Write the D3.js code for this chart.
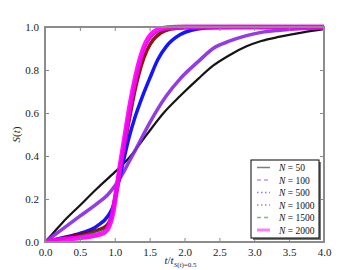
<!DOCTYPE html>
<html>
<head>
<meta charset="utf-8">
<script src="https://cdn.jsdelivr.net/npm/d3@7"></script>
<style>
  body { margin: 0; background: #fff; }
  text { font-family: "Liberation Serif", "DejaVu Serif", serif; }
</style>
</head>
<body>
<svg id="chart"></svg>
<script>
// values, [t / t_S(t)=0.5, S(t)]
var n50 = [[0,0],[0.1,0.035],[0.25,0.09],[0.5,0.17],[0.75,0.25],[1.0,0.325],[1.2,0.39],[1.46,0.5],[1.7,0.6],[1.94,0.68],[2.2,0.76],[2.41,0.82],[2.65,0.87],[2.89,0.91],[3.1,0.935],[3.37,0.955],[3.7,0.975],[4.0,0.99]];
var n100 = [[0,0],[0.25,0.06],[0.5,0.12],[0.75,0.18],[0.9,0.22],[1.0,0.26],[1.1,0.31],[1.2,0.37],[1.3,0.43],[1.46,0.53],[1.6,0.61],[1.74,0.68],[1.94,0.76],[2.2,0.84],[2.41,0.9],[2.65,0.935],[2.89,0.96],[3.1,0.975],[3.37,0.985],[3.7,0.993],[4.0,0.997]];
var n500 = [[0,0],[0.25,0.02],[0.5,0.04],[0.75,0.075],[0.9,0.12],[0.98,0.17],[1.05,0.27],[1.12,0.37],[1.2,0.48],[1.29,0.58],[1.4,0.68],[1.5,0.76],[1.62,0.85],[1.74,0.91],[1.94,0.965],[2.1,0.985],[2.4,0.996],[3,1],[4,1]];
var n1000 = [[0,0],[0.5,0.035],[0.75,0.055],[0.88,0.075],[0.95,0.12],[1.0,0.2],[1.08,0.35],[1.15,0.47],[1.22,0.59],[1.3,0.72],[1.38,0.82],[1.46,0.89],[1.55,0.94],[1.65,0.97],[1.8,0.99],[2.0,0.997],[2.4,1],[4,1]];
var n1500 = [[0,0],[0.5,0.03],[0.75,0.05],[0.88,0.065],[0.95,0.11],[1.0,0.19],[1.07,0.35],[1.14,0.49],[1.21,0.62],[1.28,0.74],[1.36,0.84],[1.44,0.91],[1.52,0.95],[1.62,0.978],[1.8,0.993],[2.0,0.999],[4,1]];
var n2000 = [[0,0],[0.2,0.01],[0.5,0.02],[0.7,0.03],[0.85,0.045],[0.92,0.075],[0.97,0.13],[1.02,0.23],[1.08,0.36],[1.15,0.5],[1.22,0.64],[1.3,0.77],[1.38,0.87],[1.45,0.93],[1.52,0.965],[1.6,0.985],[1.75,0.997],[2.0,1],[4,1]];

var seriesNames = ['50', '100', '500', '1000', '1500', '2000'];
var seriesData = [n50, n100, n500, n1000, n1500, n2000];
var xTicks = [0, 0.5, 1, 1.5, 2, 2.5, 3, 3.5, 4];
var yTicks = [0, 0.2, 0.4, 0.6, 0.8, 1.0];

var styles = [
  { color: '#000000', width: 2.2, legendWidth: 1.5, dash: null },
  { color: '#8a2be2', width: 3.5, legendWidth: 1.5, dash: '4,3' },
  { color: '#0000ff', width: 3.5, legendWidth: 1.5, dash: '1.5,2.5' },
  { color: '#8b0000', width: 3.5, legendWidth: 1.5, dash: '1.5,2.5' },
  { color: '#007a00', width: 1.5, legendWidth: 1.5, dash: '4,3' },
  { color: '#ff00ff', width: 5, legendWidth: 3, dash: null }
];

var width = 360, height = 270;
var margin = { top: 27, right: 36, bottom: 28, left: 45 };

var svg = d3.select('#chart').attr('width', width).attr('height', height);

var x = d3.scaleLinear().domain([0, 4]).range([margin.left, width - margin.right]);
var y = d3.scaleLinear().domain([0, 1]).range([height - margin.bottom, margin.top]);

svg.append('clipPath').attr('id', 'plotclip')
  .append('rect')
  .attr('x', x(0)).attr('y', y(1) - 3)
  .attr('width', x(4) - x(0)).attr('height', y(0) - y(1) + 3);

var line = d3.line()
  .x(function(d) { return x(d[0]); })
  .y(function(d) { return y(d[1]); })
  .curve(d3.curveMonotoneX);

// Draw series
svg.append('g').attr('clip-path', 'url(#plotclip)')
  .selectAll('path')
  .data(seriesData)
  .enter()
  .append('path')
  .attr('d', line)
  .attr('fill', 'none')
  .attr('stroke', function(d, i) { return styles[i].color; })
  .attr('stroke-width', function(d, i) { return styles[i].width; })
  .attr('stroke-linejoin', 'round')
  .attr('opacity', 0.92);

// Axes (ticks inside, on all four sides)
var tickColor = '#888';
var axBottom = svg.append('g').attr('transform', 'translate(0,' + y(0) + ')')
  .call(d3.axisBottom(x).tickValues(xTicks).tickSize(-4).tickPadding(6).tickFormat(d3.format('.1f')));
var axTop = svg.append('g').attr('transform', 'translate(0,' + y(1) + ')')
  .call(d3.axisTop(x).tickValues(xTicks).tickSize(-4).tickFormat(''));
var axLeft = svg.append('g').attr('transform', 'translate(' + x(0) + ',0)')
  .call(d3.axisLeft(y).tickValues(yTicks).tickSize(-4).tickPadding(6).tickFormat(d3.format('.1f')));
var axRight = svg.append('g').attr('transform', 'translate(' + x(4) + ',0)')
  .call(d3.axisRight(y).tickValues(yTicks).tickSize(-4).tickFormat(''));

[axBottom, axTop, axLeft, axRight].forEach(function(g) {
  g.attr('font-family', null);
  g.select('.domain').remove();
  g.selectAll('.tick line').attr('stroke', tickColor).attr('stroke-width', 1);
  g.selectAll('.tick text').attr('fill', '#222').style('font-size', '11px')
    .style('font-family', '"Liberation Serif", serif');
});

// Frame
svg.append('rect')
  .attr('x', x(0)).attr('y', y(1))
  .attr('width', x(4) - x(0)).attr('height', y(0) - y(1))
  .attr('fill', 'none').attr('stroke', '#8c8c8c').attr('stroke-width', 2);

// Axis labels
var xl = svg.append('text')
  .attr('x', (x(0) + x(4)) / 2 - 4).attr('y', 264)
  .attr('text-anchor', 'middle').attr('fill', '#222').style('font-size', '11px');
xl.append('tspan').style('font-style', 'italic').text('t');
xl.append('tspan').text('/');
xl.append('tspan').style('font-style', 'italic').text('t');
var sub = xl.append('tspan').attr('dy', 3).style('font-size', '7px');
sub.append('tspan').style('font-style', 'italic').text('S');
sub.append('tspan').text('(');
sub.append('tspan').style('font-style', 'italic').text('t');
sub.append('tspan').text(')=0.5');

var yl = svg.append('text')
  .attr('transform', 'translate(20,' + (y(0) + y(1)) / 2 + ') rotate(-90)')
  .attr('text-anchor', 'middle').attr('fill', '#222').style('font-size', '11px');
yl.append('tspan').style('font-style', 'italic').text('S');
yl.append('tspan').text('(');
yl.append('tspan').style('font-style', 'italic').text('t');
yl.append('tspan').text(')');

// Legend
var lg = { x: 251, y: 160, w: 68, h: 78, row: 12.5 };
svg.append('rect')
  .attr('x', lg.x + 2).attr('y', lg.y + 2).attr('width', lg.w).attr('height', lg.h)
  .attr('fill', '#777');
svg.append('rect')
  .attr('x', lg.x).attr('y', lg.y).attr('width', lg.w).attr('height', lg.h)
  .attr('fill', '#fff').attr('stroke', '#000').attr('stroke-width', 1);

var items = svg.append('g').selectAll('g')
  .data(seriesNames)
  .enter()
  .append('g')
  .attr('transform', function(d, i) { return 'translate(' + lg.x + ',' + (lg.y + 7.5 + i * lg.row) + ')'; });

items.append('line')
  .attr('x1', 6).attr('x2', 19).attr('y1', 0).attr('y2', 0)
  .attr('stroke', function(d, i) { return styles[i].color; })
  .attr('stroke-width', function(d, i) { return styles[i].legendWidth; })
  .attr('stroke-dasharray', function(d, i) { return styles[i].dash; })
  .attr('opacity', 0.5);

var lt = items.append('text')
  .attr('x', 28).attr('y', 3.5)
  .attr('fill', '#111').style('font-size', '9.5px');
lt.append('tspan').style('font-style', 'italic').text('N');
lt.append('tspan').text(function(d) { return ' = ' + d; });
</script>
</body>
</html>
